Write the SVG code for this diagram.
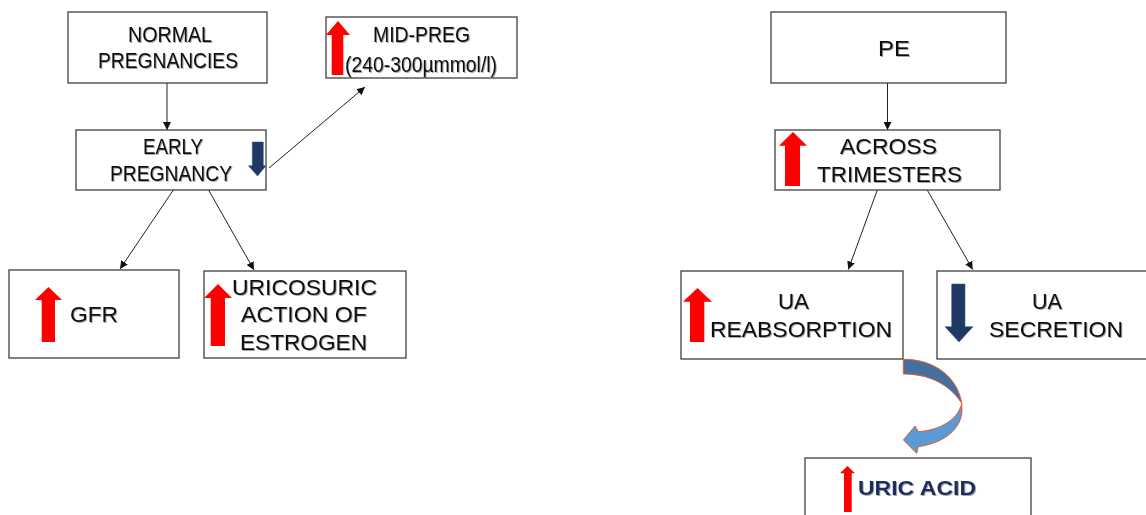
<svg xmlns="http://www.w3.org/2000/svg" width="1146" height="515" viewBox="0 0 1146 515">
<defs>
<style>
.box{fill:#fff;stroke:#404040;stroke-width:1.3}
.t{font-family:"Liberation Sans",Arial,sans-serif;font-size:21.5px;fill:#111;filter:url(#sh)}
.b{font-family:"Liberation Sans",Arial,sans-serif;font-size:21px;font-weight:bold;fill:#1F2F5F;filter:url(#sh)}
.up{fill:#FF0000}
.down{fill:#1F3864;stroke:#3A5A8C;stroke-width:0.6}
.c{stroke:#222;stroke-width:1;fill:none;marker-end:url(#ah)}
</style>
<filter id="sh" x="-5%" y="-20%" width="115%" height="150%">
<feDropShadow dx="1" dy="1" stdDeviation="0.6" flood-color="#000" flood-opacity="0.35"/>
</filter>
<marker id="ah" viewBox="0 0 10 10" refX="10" refY="5" markerWidth="8" markerHeight="8" markerUnits="userSpaceOnUse" orient="auto">
<path d="M0,0 L10,5 L0,10 Z" fill="#111"/>
</marker>
</defs>
<rect width="1146" height="515" fill="#fff"/>

<g id="connectors">
<line class="c" x1="167" y1="83" x2="167" y2="130"/>
<line class="c" x1="269" y1="168" x2="365" y2="87"/>
<line class="c" x1="174" y1="189" x2="120" y2="269"/>
<line class="c" x1="208" y1="189" x2="254" y2="270"/>
<line class="c" x1="887.5" y1="83" x2="887.5" y2="130"/>
<line class="c" x1="877.7" y1="189" x2="848.3" y2="269.5"/>
<line class="c" x1="926.7" y1="189" x2="972.7" y2="269.5"/>
</g>

<g id="normal-pregnancies">
<rect class="box" x="68" y="12" width="199" height="71"/>
<text class="t" x="128" y="42" textLength="84" lengthAdjust="spacingAndGlyphs">NORMAL</text>
<text class="t" x="98" y="68" textLength="140" lengthAdjust="spacingAndGlyphs">PREGNANCIES</text>
</g>

<g id="mid-preg">
<rect class="box" x="326" y="17" width="191" height="61"/>
<polygon class="up" points="338,21 350,35 343.3,35 343.3,75 331.7,75 331.7,35 326,35"/>
<text class="t" x="373" y="42" textLength="97" lengthAdjust="spacingAndGlyphs">MID-PREG</text>
<text class="t" x="345" y="72" textLength="152" lengthAdjust="spacingAndGlyphs">(240-300µmmol/l)</text>
</g>

<g id="early-pregnancy">
<rect class="box" x="76" y="130" width="190" height="60"/>
<text class="t" x="143" y="154" textLength="60" lengthAdjust="spacingAndGlyphs">EARLY</text>
<text class="t" x="110" y="181" textLength="122" lengthAdjust="spacingAndGlyphs">PREGNANCY</text>
<polygon class="down" points="252.3,142 263.3,142 263.3,165.7 266,165.7 257.5,176 248.5,165.7 252.3,165.7"/>
</g>

<g id="gfr">
<rect class="box" x="9" y="270" width="170" height="88"/>
<polygon class="up" points="48.5,287 62,300 55,300 55,342 41.7,342 41.7,300 35,300"/>
<text class="t" x="70" y="322" textLength="48" lengthAdjust="spacingAndGlyphs">GFR</text>
</g>

<g id="uricosuric">
<rect class="box" x="204" y="271" width="202" height="87"/>
<polygon class="up" points="218,284 232,298 225,298 225,346 210.7,346 210.7,298 204,298"/>
<text class="t" x="232" y="295" textLength="145" lengthAdjust="spacingAndGlyphs">URICOSURIC</text>
<text class="t" x="241" y="322" textLength="126" lengthAdjust="spacingAndGlyphs">ACTION OF</text>
<text class="t" x="240" y="350" textLength="127" lengthAdjust="spacingAndGlyphs">ESTROGEN</text>
</g>

<g id="pe">
<rect class="box" x="771" y="12" width="235" height="71"/>
<text class="t" x="878" y="56" textLength="32" lengthAdjust="spacingAndGlyphs">PE</text>
</g>

<g id="across-trimesters">
<rect class="box" x="775" y="130" width="225" height="60"/>
<polygon class="up" points="793,132 807,145.7 800,145.7 800,186 785,186 785,145.7 779,145.7"/>
<text class="t" x="840" y="154" textLength="97" lengthAdjust="spacingAndGlyphs">ACROSS</text>
<text class="t" x="817" y="182" textLength="145" lengthAdjust="spacingAndGlyphs">TRIMESTERS</text>
</g>

<g id="ua-reabsorption">
<rect class="box" x="681" y="271" width="222" height="88"/>
<polygon class="up" points="697.5,288 712,301.7 704.3,301.7 704.3,342 690,342 690,301.7 683,301.7"/>
<text class="t" x="778" y="309" textLength="31" lengthAdjust="spacingAndGlyphs">UA</text>
<text class="t" x="710" y="337" textLength="182" lengthAdjust="spacingAndGlyphs">REABSORPTION</text>
</g>

<g id="ua-secretion">
<rect class="box" x="937" y="271" width="215" height="88"/>
<polygon class="down" points="951.7,284 965,284 965,326.7 973,326.7 959,342 945,326.7 951.7,326.7"/>
<text class="t" x="1032" y="309" textLength="30" lengthAdjust="spacingAndGlyphs">UA</text>
<text class="t" x="989" y="337" textLength="134" lengthAdjust="spacingAndGlyphs">SECRETION</text>
</g>

<g id="curved-arrow">
<path d="M903.3,359.3 C935,359 958,378 961.7,403.3 C950,385 930,374 903.3,374 Z" fill="#44709F" stroke="#EE5A2E" stroke-width="1"/>
<path d="M961.7,403.3 C958,420 940,430 918.3,431.7 L915,426 L903.3,440 L916.7,453.3 L918.3,446.7 C945,443 962,428 962,410 Z" fill="#5B9BD5" stroke="#EE5A2E" stroke-width="1"/>
</g>

<g id="uric-acid">
<rect class="box" x="805" y="458" width="226" height="70"/>
<polygon class="up" points="847.5,466 855,473.3 851.7,473.3 851.7,512 844,512 844,473.3 840,473.3"/>
<text class="b" x="858" y="495" textLength="118" lengthAdjust="spacingAndGlyphs">URIC ACID</text>
</g>
</svg>
